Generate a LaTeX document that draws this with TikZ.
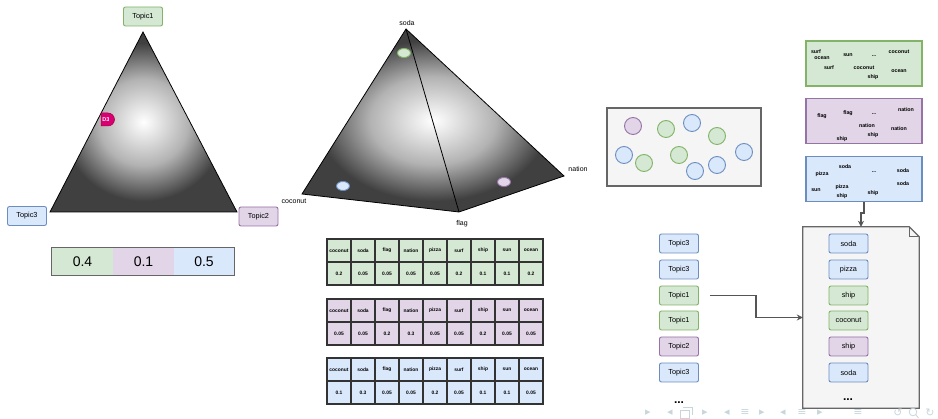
\documentclass[tikz,border=0pt]{standalone}
\usepackage{fontspec}
\setmainfont{Liberation Sans}
\newfontfamily\symfont{DejaVu Sans}
\usetikzlibrary{arrows.meta,shapes.geometric,calc}

\definecolor{gfill}{HTML}{D5E8D4}
\definecolor{gline}{HTML}{82B366}
\definecolor{pfill}{HTML}{E1D5E7}
\definecolor{pline}{HTML}{9673A6}
\definecolor{bfill}{HTML}{DAE8FC}
\definecolor{bline}{HTML}{6C8EBF}
\definecolor{boxfill}{HTML}{F5F5F5}
\definecolor{boxline}{HTML}{666666}
\definecolor{cellline}{HTML}{333333}
\definecolor{connline}{HTML}{555555}
\definecolor{markfill}{HTML}{D80073}
\definecolor{markline}{HTML}{A50040}
\definecolor{navc}{HTML}{C8D6DC}
\definecolor{shA}{gray}{0.70}
\definecolor{shB}{gray}{0.25}

% soft radial glow used for the simplex and the word pyramid
\pgfdeclareradialshading{glow}{\pgfpoint{0bp}{0bp}}{color(0bp)=(white); color(12bp)=(shA); color(22bp)=(shB); color(50bp)=(shB)}

\tikzset{
  topicbox/.style={draw, rounded corners=2pt, line width=0.9pt, minimum width=39pt,
    minimum height=19pt, inner sep=0pt, font=\fontsize{7.3}{8}\selectfont},
  gtag/.style={fill=gfill, draw=gline},
  ptag/.style={fill=pfill, draw=pline},
  btag/.style={fill=bfill, draw=bline},
  tcell/.style={draw=cellline, line width=1.2pt, minimum width=24pt, minimum height=23pt,
    inner sep=0pt, font=\fontsize{4.9}{5}\selectfont\bfseries},
  word/.style={inner sep=0pt, font=\fontsize{5.3}{6}\selectfont\bfseries},
  vtx/.style={inner sep=0pt, font=\fontsize{7}{8}\selectfont},
  pebble/.style={circle, line width=0.9pt, minimum size=17pt, inner sep=0pt},
  blob/.style={ellipse, line width=0.9pt, minimum width=13pt, minimum height=9pt, inner sep=0pt},
  wordbox/.style={draw, line width=1.1pt, minimum width=116pt, minimum height=45pt, inner sep=0pt},
  barcell/.style={minimum width=61pt, minimum height=27pt, inner sep=0pt,
    font=\fontsize{14}{15}\selectfont},
  conn/.style={draw=connline, line width=1.1pt, -{Stealth[length=6pt, width=6pt]}},
  ellip/.style={inner sep=0pt, font=\fontsize{12}{12}\selectfont\bfseries},
  navsym/.style={inner sep=0pt, text=navc, font=\symfont\fontsize{11}{11}\selectfont}
}

% one word-probability table: name prefix, fill colour, top edge, values
\newcommand\probtable[4]{%
  \foreach \w [count=\i from 0] in {coconut,soda,flag,nation,pizza,surf,ship,sun,ocean}
    \node[tcell, fill=#2] (#1h\i) at ({339+24*\i},{#3+11.5}) {\w};
  \foreach \v [count=\i from 0] in {#4}
    \node[tcell, fill=#2] (#1v\i) at ({339+24*\i},{#3+34.5}) {\v};
}

\begin{document}
\begin{tikzpicture}[x=1pt, y=-1pt]
\useasboundingbox (0,0) rectangle (938,419);

% ---------- topic simplex ----------
\coordinate (sA) at (143,32);
\coordinate (sB) at (237,212);
\coordinate (sC) at (50,212);
\shade[shading=glow] (sA) -- (sB) -- (sC) -- cycle;
\draw[line width=0.8pt, line join=miter] (sA) -- (sB) -- (sC) -- cycle;

\node[topicbox, gtag] (topicA) at (143,16.5) {Topic1};
\node[topicbox, btag] (topicC) at (27,216) {Topic3};
\node[topicbox, ptag] (topicB) at (258.5,216.5) {Topic2};

% document marker D3
\fill[markfill, draw=markline, line width=0.5pt]
  (101,113) -- (108,113) arc[start angle=-90, end angle=90, radius=6.5] -- (101,126) -- cycle;
\node[inner sep=0pt, text=white, font=\fontsize{5.5}{6}\selectfont\bfseries] (d3) at (106,119.5) {D3};

% topic proportions
\node[barcell, fill=gfill] (barA) at (82.5,261.5) {0.4};
\node[barcell, fill=pfill] (barB) at (143.5,261.5) {0.1};
\node[barcell, fill=bfill] (barC) at (204,261.5) {0.5};
\draw[boxline, line width=1pt] (barA.north west) rectangle (barC.south east);

% ---------- word pyramid ----------
\coordinate (pa) at (406,29);
\coordinate (pc) at (302,194);
\coordinate (pf) at (459,212);
\coordinate (pn) at (564,176);
\shade[shading=glow] (pa) -- (pc) -- (pf) -- (pn) -- cycle;
\draw[line width=0.8pt, line join=miter] (pa) -- (pc) -- (pf) -- (pn) -- cycle;
\draw[line width=0.8pt] (pa) -- (pf);

\node[vtx] (lsoda) at (407,23) {soda};
\node[vtx] (lcoco) at (294,201) {coconut};
\node[vtx] (lflag) at (462,223.5) {flag};
\node[vtx] (lnat) at (578,169) {nation};

\node[blob, fill=gfill, draw=gline] (tpA) at (404,53) {};
\node[blob, fill=bfill, draw=bline] (tpC) at (343,186) {};
\node[blob, fill=pfill, draw=pline] (tpB) at (504,182) {};

% ---------- topic-word tables ----------
\probtable{ga}{gfill}{239}{0.2,0.05,0.05,0.05,0.05,0.2,0.1,0.1,0.2}
\probtable{pa}{pfill}{299}{0.05,0.05,0.2,0.3,0.05,0.05,0.2,0.05,0.05}
\probtable{ba}{bfill}{358}{0.1,0.3,0.05,0.05,0.2,0.05,0.1,0.1,0.05}

% ---------- pool of topic draws ----------
\node[draw=boxline, fill=boxfill, line width=1.2pt, minimum width=154pt,
  minimum height=78pt, inner sep=0pt] (pool) at (684,147) {};
\node[pebble, fill=pfill, draw=pline] (c1) at (633,126) {};
\node[pebble, fill=gfill, draw=gline] (c2) at (666,129) {};
\node[pebble, fill=bfill, draw=bline] (c3) at (692,123) {};
\node[pebble, fill=gfill, draw=gline] (c4) at (717,136) {};
\node[pebble, fill=bfill, draw=bline] (c5) at (624,155) {};
\node[pebble, fill=gfill, draw=gline] (c6) at (644,163) {};
\node[pebble, fill=gfill, draw=gline] (c7) at (679,155) {};
\node[pebble, fill=bfill, draw=bline] (c8) at (695,171) {};
\node[pebble, fill=bfill, draw=bline] (c9) at (717,165) {};
\node[pebble, fill=bfill, draw=bline] (c10) at (744,152) {};

% ---------- word bags per topic ----------
\node[wordbox, gtag] (wbA) at (864,63.5) {};
\node[word] at (816,52) {surf};
\node[word] at (822,58) {ocean};
\node[word] at (848,55) {sun};
\node[word] at (874,56) {...};
\node[word] at (899,52) {coconut};
\node[word] at (829,68) {surf};
\node[word] at (864,68) {coconut};
\node[word] at (873,77) {ship};
\node[word] at (899,71) {ocean};

\node[wordbox, ptag] (wbB) at (864,121) {};
\node[word] at (822,116) {flag};
\node[word] at (848,113) {flag};
\node[word] at (874,114) {...};
\node[word] at (906,110) {nation};
\node[word] at (867,126) {nation};
\node[word] at (899,129) {nation};
\node[word] at (842,139) {ship};
\node[word] at (873,135) {ship};

\node[wordbox, btag] (wbC) at (864,179) {};
\node[word] at (845,167) {soda};
\node[word] at (822,174) {pizza};
\node[word] at (874,172) {...};
\node[word] at (903,171) {soda};
\node[word] at (903,184) {soda};
\node[word] at (816,190) {sun};
\node[word] at (842,187) {pizza};
\node[word] at (842,196) {ship};
\node[word] at (873,193) {ship};

% ---------- generated document ----------
\node[minimum width=116pt, minimum height=181pt, inner sep=0pt] (doc) at (861,317.5) {};
\draw[boxline, fill=boxfill, line width=1.2pt, line join=miter]
  (doc.north west) -- ($(doc.north east)+(-10,0)$) -- ($(doc.north east)+(0,10)$)
  -- (doc.south east) -- (doc.south west) -- cycle;
\draw[boxline, line width=0.8pt, line join=miter]
  ($(doc.north east)+(-10,0)$) -- ($(doc.north east)+(-10,10)$) -- ($(doc.north east)+(0,10)$);

\node[topicbox, btag] (w1) at (848.5,243.5) {soda};
\node[topicbox, btag] (w2) at (848.5,269.5) {pizza};
\node[topicbox, gtag] (w3) at (848.5,295.5) {ship};
\node[topicbox, gtag] (w4) at (848.5,320.5) {coconut};
\node[topicbox, ptag] (w5) at (848.5,346.5) {ship};
\node[topicbox, btag] (w6) at (848.5,372.5) {soda};
\node[ellip] (docmore) at (848,400) {...};

% ---------- sampled topic assignments ----------
\node[topicbox, btag] (tl1) at (679,243.5) {Topic3};
\node[topicbox, btag] (tl2) at (679,269.5) {Topic3};
\node[topicbox, gtag] (tl3) at (679,295.5) {Topic1};
\node[topicbox, gtag] (tl4) at (679,320.5) {Topic1};
\node[topicbox, ptag] (tl5) at (679,346.5) {Topic2};
\node[topicbox, btag] (tl6) at (679,372.5) {Topic3};
\node[ellip] (tlmore) at (679,403) {...};

% ---------- connectors ----------
\draw[conn] ($(tl3.east)+(11,0)$) coordinate (tstart) -- ++(46,0) |- (doc.west);
\draw[conn] (wbC.south) -- ++(0,11) -| (doc.north);

% ---------- navigation bar ----------
\node[navsym] (n1) at (648,413) {▸};
\node[navsym] (n2) at (670,413) {◂};
\draw[navc, line width=0.8pt] (680,410) rectangle (689,418) (683,407) -- (692,407) -- (692,415);
\node[navsym] (n3) at (705,413) {▸};
\node[navsym] (n4) at (727,413) {◂};
\node[navsym] (n5) at (745,413) {≡};
\node[navsym] (n6) at (762,413) {▸};
\node[navsym] (n7) at (783,413) {◂};
\node[navsym] (n8) at (802,413) {≡};
\node[navsym] (n9) at (820,413) {▸};
\node[navsym] (n10) at (858,413) {≡};
\node[navsym] (n11) at (898,413) {↺};
\draw[navc, line width=0.8pt] (913,412) circle[radius=3.8] (915.8,414.8) -- (918.5,418);
\node[navsym] (n12) at (930,413) {↻};
\end{tikzpicture}
\end{document}
